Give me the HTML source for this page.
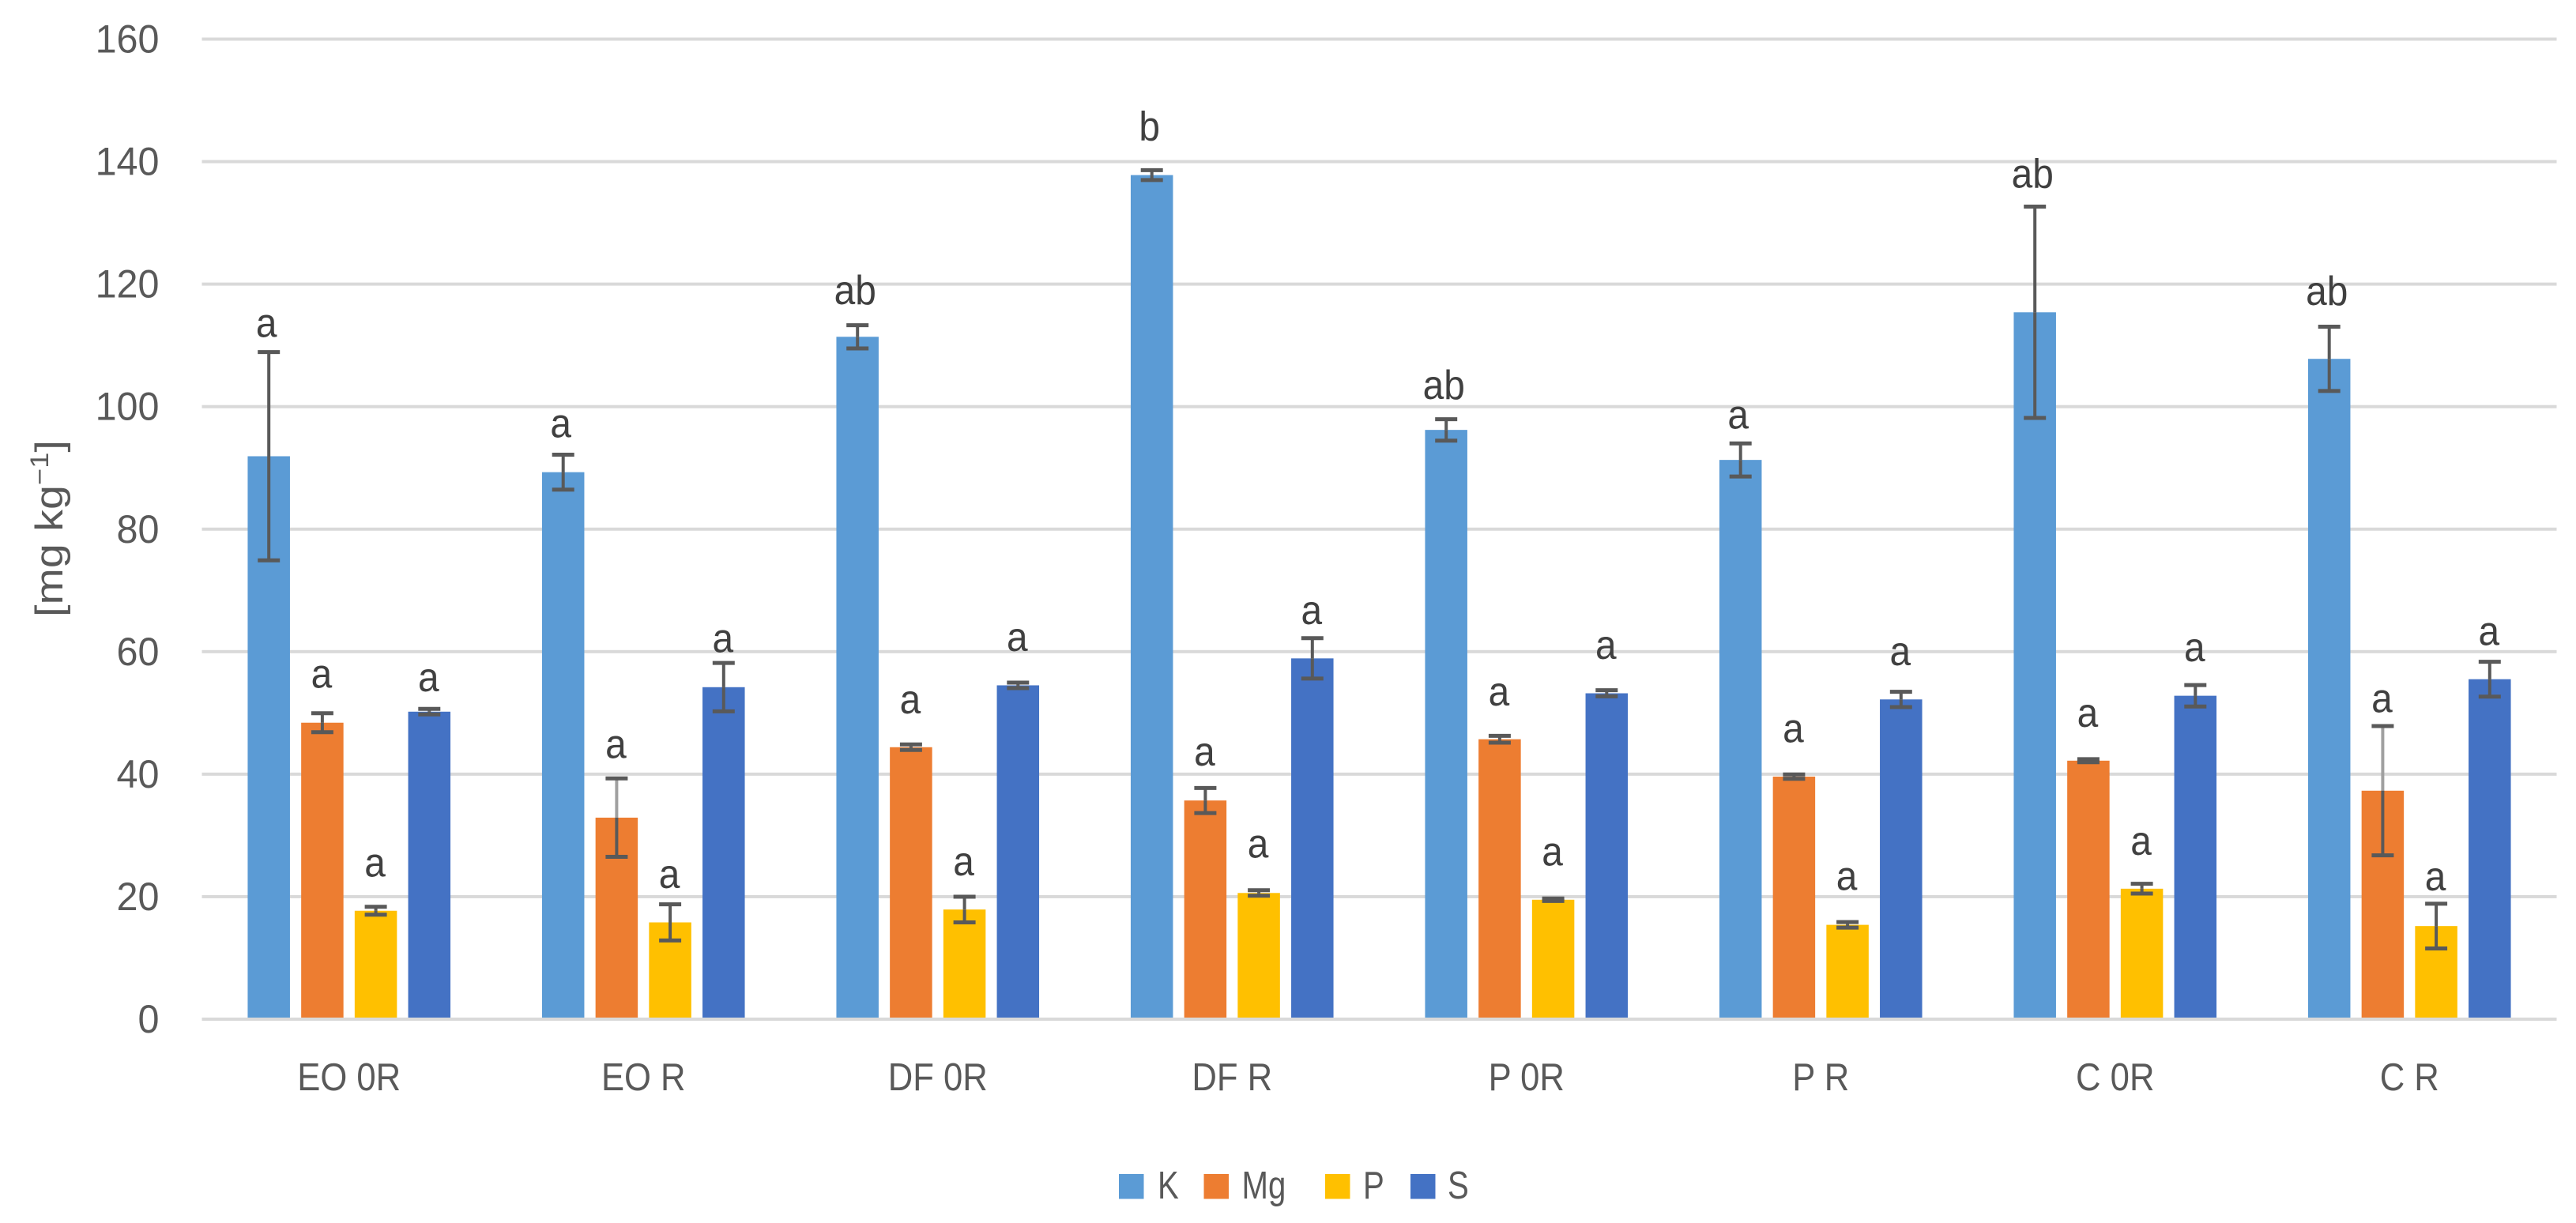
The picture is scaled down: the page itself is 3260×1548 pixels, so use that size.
<!DOCTYPE html>
<html lang="en">
<head>
<meta charset="utf-8">
<title>Nutrient concentrations by treatment</title>
<style>
  html, body { margin: 0; padding: 0; background: #ffffff; }
  svg { display: block; font-family: "Liberation Sans", sans-serif; }
</style>
</head>
<body>
<svg id="chart" xmlns="http://www.w3.org/2000/svg" width="3260" height="1548" viewBox="0 0 3260 1548">
  <rect x="0" y="0" width="3260" height="1548" fill="#ffffff"></rect>
</svg>
<script>
const categories = ['EO 0R', 'EO R', 'DF 0R', 'DF R', 'P 0R', 'P R', 'C 0R', 'C R'];
const yTicks = [0, 20, 40, 60, 80, 100, 120, 140, 160];
const seriesNames = ['K', 'Mg', 'P', 'S'];

const valuesK  = [91.9, 89.3, 111.4, 137.8, 96.2, 91.3, 115.4, 107.8];
const valuesMg = [48.4, 32.9, 44.4, 35.7, 45.7, 39.6, 42.2, 37.3];
const valuesP  = [17.7, 15.8, 17.9, 20.6, 19.5, 15.4, 21.3, 15.2];
const valuesS  = [50.2, 54.2, 54.5, 58.9, 53.2, 52.2, 52.8, 55.5];

const errorsK  = [17, 2.85, 1.9, 0.8, 1.75, 2.7, 17.25, 5.25];
const errorsMg = [1.55, 6.4, 0.45, 2.05, 0.55, 0.35, 0.25, 10.55];
const errorsP  = [0.65, 2.95, 2.1, 0.45, 0.2, 0.45, 0.8, 3.65];
const errorsS  = [0.45, 3.95, 0.45, 3.3, 0.5, 1.25, 1.75, 2.85];

const lettersK  = ['a', 'a', 'ab', 'b', 'ab', 'a', 'ab', 'ab'];
const lettersMg = ['a', 'a', 'a', 'a', 'a', 'a', 'a', 'a'];
const lettersP  = ['a', 'a', 'a', 'a', 'a', 'a', 'a', 'a'];
const lettersS  = ['a', 'a', 'a', 'a', 'a', 'a', 'a', 'a'];

/* clearance between top of error bar and the letter, in axis units (mg/kg) */
const letterClearK  = [2.5, 2.85, 3.4, 4.9, 3.3, 2.4, 3.1, 3.55];
const letterClearMg = [4.15, 3.3, 5.05, 3.65, 4.95, 5.25, 5.25, 2.25];
const letterClearP  = [4.95, 2.65, 3.5, 5.35, 5.4, 5.25, 4.7, 2.15];
const letterClearS  = [2.85, 1.75, 5.15, 2.3, 5.1, 4.35, 3.85, 2.75];

/* Mg categories whose upper error stem is drawn lighter in the source */
const lightStemMg = ['EO R', 'C R'];

const allValues = [valuesK, valuesMg, valuesP, valuesS];
const allErrors = [errorsK, errorsMg, errorsP, errorsS];
const allLetters = [lettersK, lettersMg, lettersP, lettersS];
const allClear = [letterClearK, letterClearMg, letterClearP, letterClearS];

const palette = ['#5B9BD5', '#ED7D31', '#FFC000', '#4472C4'];
const NS = 'http://www.w3.org/2000/svg';
const svg = document.getElementById('chart');

const plotLeft = 255.5, plotRight = 3235.5, yZero = 1290, yTop = 49.5, yMax = 160;
const barPitch = 67.7, barWidth = 53.5, capHalf = 14;

function yScale(v) { return yZero - (v / yMax) * (yZero - yTop); }
function groupCenter(i) { return plotLeft + (i + 0.5) * (plotRight - plotLeft) / categories.length; }
function barCenter(i, s) { return groupCenter(i) + (s - (seriesNames.length - 1) / 2) * barPitch; }

function mk(tag, attrs, parent) {
  const el = document.createElementNS(NS, tag);
  for (const k in attrs) el.setAttribute(k, attrs[k]);
  (parent || svg).appendChild(el);
  return el;
}
function fit(el, factor) {
  el.setAttribute('textLength', (el.getComputedTextLength() * factor).toFixed(1));
  el.setAttribute('lengthAdjust', 'spacingAndGlyphs');
}
function tickKey(v) { return String(v); }

/* gridlines and y tick labels */
yTicks.forEach(function (t) {
  const line = mk('rect', { x: plotLeft, y: yScale(t) - 2, width: plotRight - plotLeft, height: 4, fill: '#D9D9D9' });
  
  
  const label = mk('text', { x: 201.5, y: yScale(t) + 17, 'text-anchor': 'end', 'font-size': 50, fill: '#595959' });
  label.textContent = tickKey(t);
  
  
  fit(label, 0.97);
});

/* bars */
categories.forEach(function (cat, i) {
  seriesNames.forEach(function (name, s) {
    const val = allValues[s][i];
    const bar = mk('rect', {
      x: barCenter(i, s) - barWidth / 2, y: yScale(val),
      width: barWidth, height: yScale(0) - 2 - yScale(val), fill: palette[s]
    });
    
    
  });
});

/* error bars */
categories.forEach(function (cat, i) {
  seriesNames.forEach(function (name, s) {
    const val = allValues[s][i], err = allErrors[s][i], cx = barCenter(i, s);
    const hi = yScale(val + err), lo = yScale(val - err), top = yScale(val);
    const g = mk('g', { fill: 'none' });
    
    
    const light = name === 'Mg' && lightStemMg.indexOf(cat) !== -1;
    mk('line', { x1: cx, x2: cx, y1: hi, y2: top, stroke: light ? '#A0A0A0' : '#595959', 'stroke-width': 4 }, g);
    mk('line', { x1: cx, x2: cx, y1: top, y2: lo, stroke: '#595959', 'stroke-width': 4 }, g);
    mk('line', { x1: cx - capHalf, x2: cx + capHalf, y1: hi, y2: hi, stroke: '#595959', 'stroke-width': 5 }, g);
    mk('line', { x1: cx - capHalf, x2: cx + capHalf, y1: lo, y2: lo, stroke: '#595959', 'stroke-width': 5 }, g);
  });
});

/* significance letters */
categories.forEach(function (cat, i) {
  seriesNames.forEach(function (name, s) {
    const top = allValues[s][i] + allErrors[s][i] + allClear[s][i];
    const t = mk('text', {
      x: barCenter(i, s) - (s === 0 ? 3 : 1), y: yScale(top),
      'text-anchor': 'middle', 'font-size': 52, fill: '#404040'
    });
    t.textContent = allLetters[s][i];
    
    
    fit(t, 0.92);
  });
});

/* category labels */
categories.forEach(function (cat, i) {
  const t = mk('text', { x: groupCenter(i), y: 1380, 'text-anchor': 'middle', 'font-size': 49, fill: '#595959' });
  t.textContent = cat;
  
  
  fit(t, 0.89);
});

/* y axis title */
const yTitle = mk('text', { 'font-size': 49, fill: '#595959' });


yTitle.appendChild(document.createTextNode('[mg kg'));
const sup = mk('tspan', { 'font-size': 32, dy: -18 }, yTitle);
sup.textContent = '\u22121';
const close = mk('tspan', { dy: 18 }, yTitle);
close.textContent = ']';
const titleScale = 224 / yTitle.getComputedTextLength();
yTitle.setAttribute('transform', 'translate(79,781) rotate(-90) scale(' + titleScale.toFixed(3) + ',1)');

/* legend */
const legendSwatchX = [1416, 1523.5, 1677, 1785];
const legendTextX = [1465, 1571.5, 1725, 1832];
seriesNames.forEach(function (name, s) {
  const g = mk('g', {});
  
  
  const sw = mk('rect', { x: legendSwatchX[s], y: 1486, width: 31.5, height: 31.5, fill: palette[s] }, g);
  
  
  const t = mk('text', { x: legendTextX[s], y: 1517, 'font-size': 49, fill: '#595959' }, g);
  t.textContent = name;
  
  
  fit(t, 0.82);
});
</script>
</body>
</html>
